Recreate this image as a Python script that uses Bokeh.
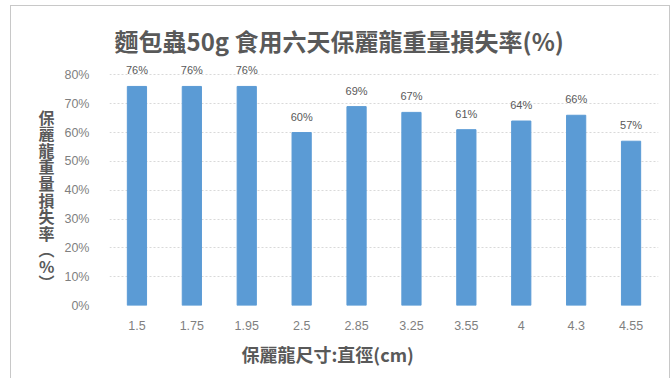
from bokeh.plotting import figure
from bokeh.models import Title, FixedTicker, NumeralTickFormatter, ColumnDataSource, FactorRange, Range1d
from bokeh.core.properties import value
from bokeh.embed import file_html
from bokeh.resources import INLINE

sizes = ["1.5", "1.75", "1.95", "2.5", "2.85", "3.25", "3.55", "4", "4.3", "4.55"]
loss = [0.76, 0.76, 0.76, 0.60, 0.69, 0.67, 0.61, 0.64, 0.66, 0.57]
loss_labels = ["76%", "76%", "76%", "60%", "69%", "67%", "61%", "64%", "66%", "57%"]
y_ticks = [0.0, 0.1, 0.2, 0.3, 0.4, 0.5, 0.6, 0.7, 0.8]

title_text = "麵包蟲50g 食用六天保麗龍重量損失率(%)"
y_title = "保麗龍重量損失率︵%︶"
x_title = "保麗龍尺寸:直徑(cm)"

CJK = "Noto Sans CJK TC"
GRAY = "#595959"
TICK_GRAY = "#7F7F7F"

src = ColumnDataSource(dict(x=sizes, y=loss, t=loss_labels))

p = figure(width=660, height=373, x_range=FactorRange(*sizes, range_padding=0),
           y_range=Range1d(0, 0.85), output_backend="svg", toolbar_location=None,
           min_border_left=98, min_border_right=13, min_border_top=54, min_border_bottom=74,
           margin=(5, 0, 0, 10), styles={"border-left": "1px solid #C8C8C8", "border-top": "1px solid #C8C8C8",
                                        "border-right": "1px solid #C8C8C8"})
p.outline_line_color = None
p.background_fill_color = "white"
p.border_fill_color = "white"

p.vbar(x="x", top="y", width=0.35, source=src, color="#5B9BD5")
p.text(x="x", y="y", text="t", source=src, text_align="center", text_baseline="middle",
       y_offset=-16, text_font_size="11px", text_color=GRAY, text_font=value("Liberation Sans"))

# title
p.title.text = title_text
p.title.text_font = CJK
p.title.text_font_size = "24px"
p.title.text_font_style = "bold"
p.title.text_color = GRAY
p.title.align = "left"
p.title.vertical_align = "middle"
p.title.offset = 5
p.title.standoff = 4

p.yaxis.ticker = FixedTicker(ticks=y_ticks)
p.yaxis.formatter = NumeralTickFormatter(format="0%")
p.yaxis.axis_line_color = None
p.yaxis.major_tick_line_color = None
p.yaxis.minor_tick_line_color = None
p.yaxis.major_label_text_font_size = "12.5px"
p.yaxis.major_label_text_color = TICK_GRAY
p.yaxis.major_label_text_font = "Liberation Sans"
p.yaxis.major_label_standoff = 14
p.yaxis.axis_label = "\n".join(["\u3000", "\u3000"] + list(y_title))
p.yaxis.axis_label_orientation = "horizontal"
p.yaxis.axis_label_text_font = CJK
p.yaxis.axis_label_text_font_style = "bold"
p.yaxis.axis_label_text_font_size = "16px"
p.yaxis.axis_label_text_line_height = 0.69
p.yaxis.axis_label_text_color = GRAY
p.yaxis.axis_label_text_align = "center"
p.yaxis.axis_label_standoff = 7

p.xaxis.axis_line_color = None
p.xaxis.major_tick_line_color = None
p.xaxis.major_label_text_font_size = "12.5px"
p.xaxis.major_label_text_color = TICK_GRAY
p.xaxis.major_label_text_font = "Liberation Sans"
p.xaxis.major_label_standoff = 9

p.add_layout(Title(text=x_title, text_font=CJK, text_font_size="18px", text_font_style="bold",
                   text_color=GRAY, align="left", offset=132, standoff=12), "below")

p.xgrid.grid_line_color = None
p.ygrid.grid_line_color = "#D9D9D9"
p.ygrid.grid_line_dash = "2 2"

open("out.html", "w").write(file_html(p, INLINE))
